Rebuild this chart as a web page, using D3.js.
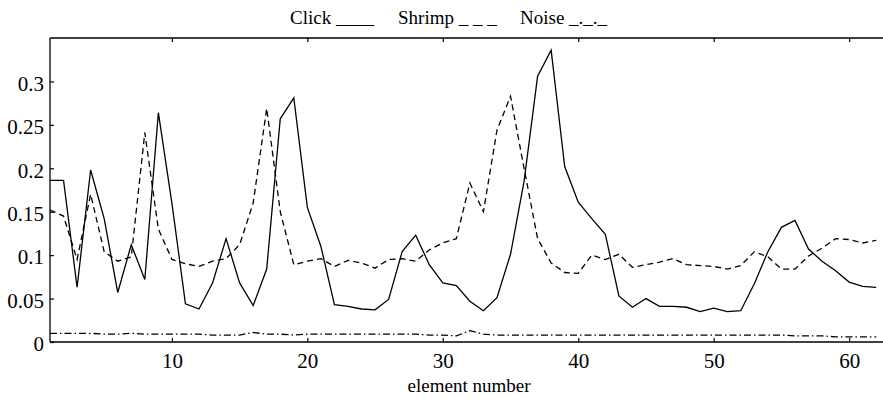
<!DOCTYPE html>
<html>
<head>
<meta charset="utf-8">
<script src="https://cdn.jsdelivr.net/npm/d3@7/dist/d3.min.js"></script>
<style>
  html, body { margin: 0; padding: 0; background: #fff; }
  svg { display: block; }
  text { font-family: "Liberation Serif", "Times New Roman", serif; fill: #000; }
</style>
</head>
<body>
<svg id="chart" width="883" height="399"></svg>
<script>
// ---- data ----
const elements = [1,2,3,4,5,6,7,8,9,10,11,12,13,14,15,16,17,18,19,20,21,22,23,24,25,26,27,28,29,30,31,32,33,34,35,36,37,38,39,40,41,42,43,44,45,46,47,48,49,50,51,52,53,54,55,56,57,58,59,60,61,62];
const click = [0.186,0.186,0.063,0.198,0.142,0.057,0.112,0.072,0.264,0.160,
  0.044,0.038,0.068,0.119,0.068,0.042,0.084,0.257,0.281,0.155,
  0.110,0.043,0.041,0.038,0.037,0.049,0.104,0.123,0.089,0.068,
  0.065,0.047,0.036,0.051,0.101,0.185,0.306,0.336,0.202,0.161,
  0.142,0.124,0.053,0.040,0.050,0.041,0.041,0.040,0.035,0.039,
  0.035,0.036,0.067,0.104,0.132,0.140,0.107,0.093,0.082,0.069,
  0.064,0.063];
const shrimp = [0.152,0.145,0.095,0.170,0.104,0.093,0.098,0.241,0.130,0.095,
  0.090,0.087,0.093,0.096,0.112,0.160,0.269,0.150,0.089,0.093,
  0.096,0.087,0.094,0.091,0.085,0.095,0.096,0.093,0.106,0.114,
  0.119,0.183,0.150,0.244,0.283,0.200,0.119,0.091,0.080,0.079,
  0.100,0.095,0.101,0.086,0.089,0.092,0.096,0.089,0.088,0.087,
  0.084,0.088,0.104,0.098,0.084,0.084,0.099,0.108,0.119,0.118,
  0.114,0.117];
const noise = [0.010,0.010,0.010,0.010,0.009,0.009,0.010,0.009,0.009,0.009,
  0.009,0.009,0.008,0.008,0.008,0.011,0.009,0.009,0.008,0.009,
  0.009,0.009,0.009,0.009,0.009,0.009,0.009,0.009,0.008,0.008,
  0.007,0.013,0.009,0.008,0.008,0.008,0.008,0.008,0.008,0.008,
  0.008,0.008,0.008,0.008,0.008,0.008,0.008,0.008,0.008,0.008,
  0.008,0.008,0.008,0.008,0.008,0.007,0.007,0.007,0.006,0.006,
  0.006,0.006];
const xTicks = [10,20,30,40,50,60];
const yTicks = [0,0.05,0.1,0.15,0.2,0.25,0.3];
const yTickLabels = ["0","0.05","0.1","0.15","0.2","0.25","0.3"];
const legendLabels = ["Click ____", "Shrimp _ _ _", "Noise _._._"];
const xLabel = "element number";

// ---- layout ----
const svg = d3.select("#chart");
const plotLeft = 50, plotRight = 883, plotTop = 38, plotBottom = 342;
const x = d3.scaleLinear().domain([1, 62.5]).range([plotLeft, plotRight]);
const y = d3.scaleLinear().domain([0, 0.35]).range([plotBottom, plotTop]);

// frame
const frame = svg.append("g").attr("stroke", "#000").attr("stroke-width", 1.3).attr("fill", "none");
frame.append("line").attr("x1", plotLeft).attr("x2", plotRight).attr("y1", plotTop).attr("y2", plotTop);
frame.append("line").attr("x1", plotLeft).attr("x2", plotRight).attr("y1", plotBottom).attr("y2", plotBottom).attr("stroke-width", 1.6);
frame.append("line").attr("x1", plotLeft).attr("x2", plotLeft).attr("y1", plotTop).attr("y2", plotBottom);

// axes
const xAxis = svg.append("g").attr("transform", `translate(0,${plotBottom})`)
  .call(d3.axisBottom(x).tickValues(xTicks).tickSize(-4).tickPadding(11).tickFormat(d3.format("d")));
const xAxisTop = svg.append("g").attr("transform", `translate(0,${plotTop})`)
  .call(d3.axisTop(x).tickValues(xTicks).tickSize(-4).tickFormat(""));
const yAxis = svg.append("g").attr("transform", `translate(${plotLeft},0)`)
  .call(d3.axisLeft(y).tickValues(yTicks).tickSize(-4).tickPadding(6).tickFormat((d, i) => yTickLabels[i]));
[xAxis, xAxisTop, yAxis].forEach(g => {
  g.select(".domain").remove();
  g.selectAll(".tick line").attr("stroke", "#000").attr("stroke-width", 1.2);
  g.selectAll("text").attr("font-family", "Liberation Serif").attr("font-size", 21).attr("fill", "#000");
});
yAxis.selectAll("text").attr("dy", "0.42em");

// lines
const line = d3.line().x((d, i) => x(elements[i])).y(d => y(d));
const series = [
  { values: click, dash: null },
  { values: shrimp, dash: "6,4" },
  { values: noise, dash: "7,3,1.5,3" }
];
svg.append("g").selectAll("path").data(series).join("path")
  .attr("d", d => line(d.values))
  .attr("fill", "none")
  .attr("stroke", "#000")
  .attr("stroke-width", 1.3)
  .attr("stroke-dasharray", d => d.dash);

// x label
svg.append("text").attr("x", 469).attr("y", 392).attr("text-anchor", "middle")
  .attr("font-size", 19).text(xLabel);

// legend
const legendX = [290, 398, 520];
svg.append("g").selectAll("text").data(legendLabels).join("text")
  .attr("x", (d, i) => legendX[i]).attr("y", 24)
  .attr("font-size", 19)
  .style("white-space", "pre")
  .text(d => d);
</script>
</body>
</html>
